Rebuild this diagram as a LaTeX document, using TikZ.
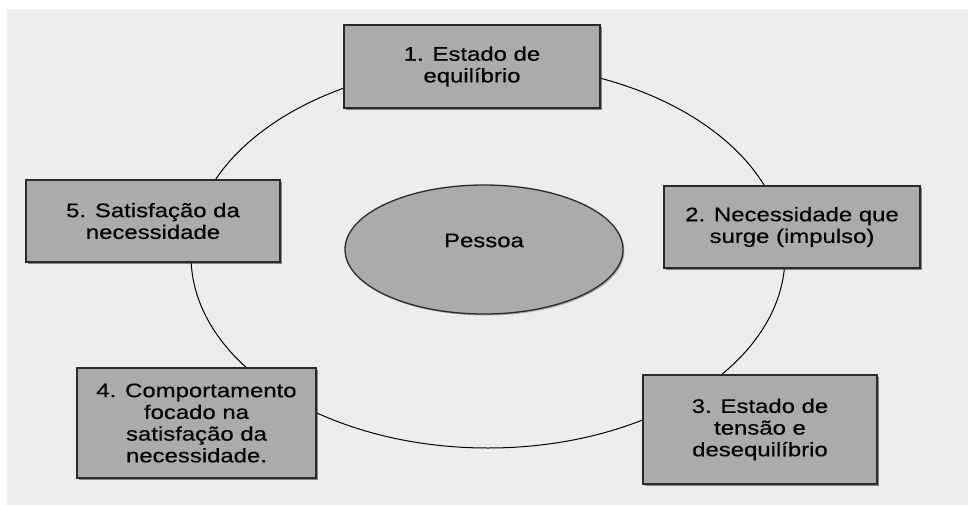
\documentclass[tikz,border=0pt]{standalone}
\usepackage{fontspec}
\setmainfont{Liberation Sans}[FakeStretch=1.22,FakeBold=0.4]
\usetikzlibrary{shapes.geometric,shadows}
\definecolor{bggray}{HTML}{EDEDED}
\definecolor{boxgray}{HTML}{ABABAB}
\definecolor{edgegray}{HTML}{2A2A2A}
\tikzset{
  stagebox/.style={draw=edgegray, line width=1.3pt, fill=boxgray, rectangle,
    inner sep=0pt, outer sep=0pt, align=center, text=black,
    font=\fontsize{19.6}{21.7}\selectfont,
    drop shadow={shadow xshift=2pt, shadow yshift=-2pt, fill=black!75, opacity=0.6}},
  ringline/.style={draw=black, line width=1pt, ellipse, inner sep=0pt, outer sep=0pt},
  centerell/.style={draw=edgegray, line width=1.3pt, fill=boxgray, ellipse,
    inner sep=0pt, outer sep=0pt,
    drop shadow={shadow xshift=1.5pt, shadow yshift=-1.5pt, fill=black!70, opacity=0.4}},
  centertext/.style={font=\fontsize{19.6}{21.7}\selectfont, text=black, inner sep=0pt}
}
\begin{document}
\begin{tikzpicture}[x=1pt,y=-1pt]
\useasboundingbox (0,0) rectangle (968,505);
\fill[bggray] (7,9) rectangle (968,505);
% ring
\node[ringline, minimum width=594pt, minimum height=384pt] (ring) at (488,256) {};
% center ellipse
\node[centerell, minimum width=278pt, minimum height=129pt] (pessoa) at (484,249.5) {};
\node[centertext] (pessoatext) at ([yshift=9pt]pessoa.center) {Pessoa};
% stage boxes
\node[stagebox, minimum width=256pt, minimum height=83pt] (s1) at (472,66.5)
  {1. Estado de\\equilíbrio};
\node[stagebox, minimum width=256pt, minimum height=82pt] (s2) at (792,227)
  {2. Necessidade que\\surge (impulso)};
\node[stagebox, minimum width=234pt, minimum height=109pt] (s3) at (760,429.5)
  {3. Estado de\\tensão e\\desequilíbrio};
\node[stagebox, minimum width=239pt, minimum height=110pt] (s4) at (196.5,423)
  {4. Comportamento\\focado na\\satisfação da\\necessidade.};
\node[stagebox, minimum width=254pt, minimum height=82pt] (s5) at (153,221)
  {5. Satisfação da\\necessidade};
\end{tikzpicture}
\end{document}
